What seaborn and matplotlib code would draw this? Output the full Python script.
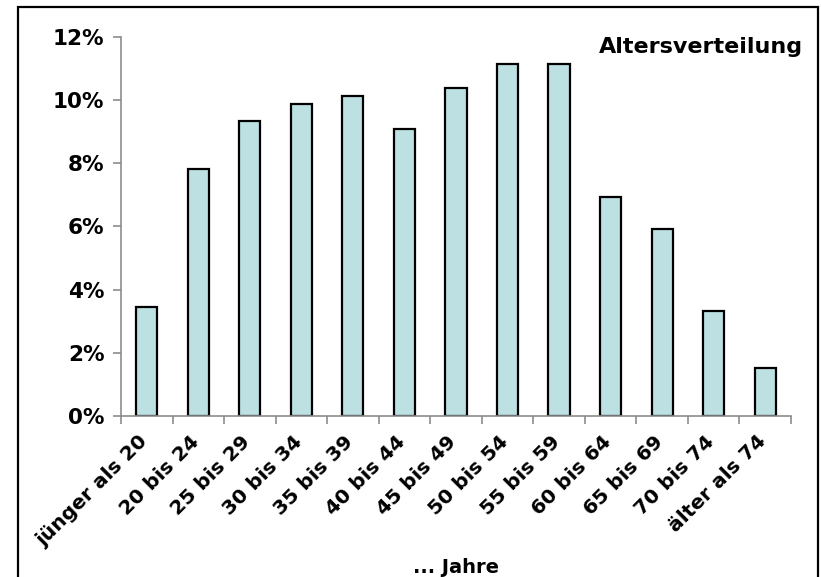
import matplotlib
matplotlib.use("Agg")
import matplotlib.pyplot as plt
import matplotlib.transforms as mtransforms
import seaborn as sns
import pandas as pd
from matplotlib.patches import Rectangle
from matplotlib.ticker import FuncFormatter

# age groups and share of each group
groups = ["jünger als 20", "20 bis 24", "25 bis 29", "30 bis 34", "35 bis 39",
          "40 bis 44", "45 bis 49", "50 bis 54", "55 bis 59", "60 bis 64",
          "65 bis 69", "70 bis 74", "älter als 74"]
shares = [0.0346, 0.0782, 0.0935, 0.0987, 0.1012, 0.0910, 0.1037,
          0.1115, 0.1115, 0.0693, 0.0591, 0.0333, 0.0153]

df = pd.DataFrame({"Gruppe": groups, "Anteil": shares})

sns.set_style("white")
plt.rcParams["font.family"] = ["DejaVu Sans"]
plt.rcParams["font.weight"] = "bold"
plt.rcParams["text.color"] = "black"
plt.rcParams["xtick.labelcolor"] = "black"
plt.rcParams["ytick.labelcolor"] = "black"
plt.rcParams["axes.labelcolor"] = "black"

fig = plt.figure(figsize=(8.21, 5.77), dpi=100)
ax = fig.add_axes([0.1474, 0.279, 0.816, 0.657])

sns.barplot(data=df, x="Gruppe", y="Anteil", color="#BDE0E2",
            edgecolor="black", linewidth=1.6, width=0.41, saturation=1, ax=ax)

ax.set_xlim(-0.5, len(groups) - 0.5)
ax.set_ylim(0, 0.12)
ax.set_yticks([0, 0.02, 0.04, 0.06, 0.08, 0.10, 0.12])
ax.yaxis.set_major_formatter(FuncFormatter(lambda v, p: f"{v * 100:.0f}%"))

# ticks between categories, like the spreadsheet original
ax.set_xticks([i - 0.5 for i in range(len(groups) + 1)], minor=True)
ax.tick_params(axis="x", which="minor", length=6, width=1.2, color="#8c8c8c",
               direction="out", bottom=True)
ax.tick_params(axis="x", which="major", length=0, pad=10)
ax.tick_params(axis="y", length=6, width=1.2, color="#8c8c8c", direction="out",
               left=True, pad=6)
ax.set_xticks(range(len(groups)))
ax.set_xticklabels(groups, rotation=45, ha="right", rotation_mode="anchor",
                   fontsize=14.5, fontweight="bold", color="black")
shift = mtransforms.ScaledTranslation(-9 / 100, -2 / 100, fig.dpi_scale_trans)
for lab in ax.get_xticklabels():
    lab.set_transform(lab.get_transform() + shift)
for lab in ax.get_yticklabels():
    lab.set_fontsize(15.5)
    lab.set_fontweight("bold")
    lab.set_color("black")

for side in ["top", "right"]:
    ax.spines[side].set_visible(False)
for side in ["left", "bottom"]:
    ax.spines[side].set_color("#8c8c8c")
    ax.spines[side].set_linewidth(1.2)

ax.set_ylabel("")
ax.set_xlabel("... Jahre", fontsize=14, fontweight="bold", color="black")
ax.xaxis.set_label_coords(0.5, -0.375)

fig.text(0.978, 0.918, "Altersverteilung", ha="right", va="center",
         fontsize=16, fontweight="bold", color="black")

# outer chart frame
fig.patches.append(Rectangle((18 / 821, -0.05), 800 / 821, 1.05 - 7 / 577,
                             transform=fig.transFigure, fill=False,
                             edgecolor="black", linewidth=1.6))

fig.savefig("out.png", dpi=100)
